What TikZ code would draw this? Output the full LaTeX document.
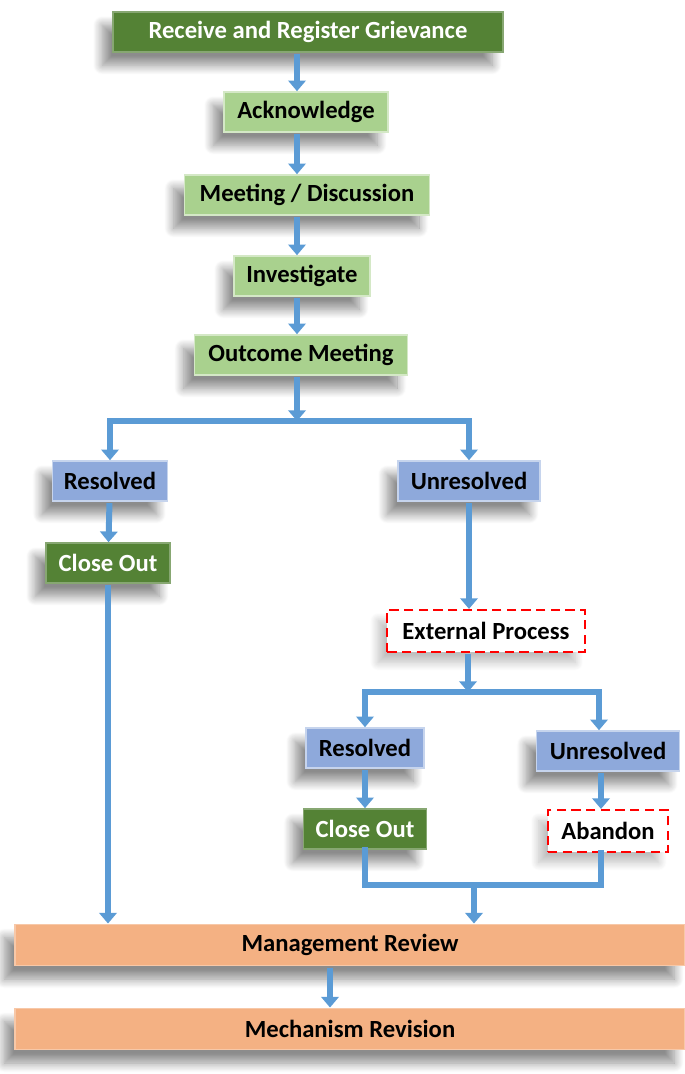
\documentclass[tikz,border=0pt]{standalone}
\usepackage{fontspec}
\setmainfont{Carlito}
\usetikzlibrary{positioning, arrows.meta, shadows.blur}

\definecolor{darkgreen}{RGB}{84,130,53}
\definecolor{lightgreen}{RGB}{169,209,142}
\definecolor{stepblue}{RGB}{142,169,219}
\definecolor{salmon}{RGB}{244,177,131}
\definecolor{flowblue}{RGB}{91,155,213}

\begin{document}
\begin{tikzpicture}[
    % GLOBAL CFG
    x=0.75pt, y=-0.75pt,
    font=\fontsize{18.5}{21}\selectfont\bfseries,
    % Styles
    box/.style={% Common look of all boxes
        rectangle,
        minimum height=30pt,
        inner sep=2pt,
        line width=1.2pt,
        blur shadow={shadow xshift=-8pt, shadow yshift=-10pt,
            shadow opacity=45, shadow blur steps=12, shadow blur radius=7pt},
    },
    dgbox/.style={% Dark green boxes, white text
        box,
        fill=darkgreen,
        draw=darkgreen!70!white,
        text=white,
    },
    lgbox/.style={% Light green steps
        box,
        fill=lightgreen,
        draw=lightgreen!50!white,
    },
    bluebox/.style={% Outcomes
        box,
        fill=stepblue,
        draw=stepblue!50!white,
    },
    salbox/.style={% Wide review boxes
        box,
        fill=salmon,
        draw=salmon!70!white,
        minimum width=502.5pt,
        minimum height=31pt,
    },
    extbox/.style={% Red dashed boxes
        rectangle,
        minimum height=31.5pt,
        fill=white,
        draw=red,
        line width=1.6pt,
        dash pattern=on 7pt off 4pt,
        blur shadow={shadow xshift=-7pt, shadow yshift=-8pt,
            shadow opacity=25, shadow blur steps=12, shadow blur radius=6pt},
    },
    flow/.style={% Thick blue arrows
        draw=flowblue,
        line width=4.5pt,
        -{Triangle[width=13pt,length=8pt]},
        shorten <=1pt,
    },
    pipe/.style={% Thick blue bars
        draw=flowblue,
        line width=4.5pt,
        line cap=rect,
    },
    ]

    \useasboundingbox (0,0) rectangle (685,1074);

    % Draw main column
    \node [dgbox, minimum width=292.5pt] (rcv) at (308,32) {Receive and Register Grievance};
    \node [lgbox, minimum width=123pt] (ack) at (306,112) {Acknowledge};
    \node [lgbox, minimum width=184pt] (meet) at (307,195) {Meeting / Discussion};
    \node [lgbox, minimum width=102pt] (inv) at (302,276) {Investigate};
    \node [lgbox, minimum width=160pt] (outc) at (301,355) {Outcome Meeting};

    % Draw first split
    \node [bluebox, minimum width=86pt] (res1) at (110,481) {Resolved};
    \node [bluebox, minimum width=106.5pt] (unres1) at (469,481) {Unresolved};
    \node [dgbox, minimum width=93pt] (close1) at (108,563) {Close Out};
    \node [extbox, minimum width=148pt] (ext) at (486,631) {External Process};

    % Draw second split
    \node [bluebox, minimum width=88.5pt] (res2) at (365,748) {Resolved};
    \node [bluebox, minimum width=107pt] (unres2) at (608,751) {Unresolved};
    \node [dgbox, minimum width=92pt] (close2) at (365,829) {Close Out};
    \node [extbox, minimum width=90pt] (aband) at (608,831) {Abandon};

    % Draw review
    \node [salbox] (mgmt) at (350,945) {Management Review};
    \node [salbox] (mech) at (350,1029) {Mechanism Revision};

    % Helper coordinates for the bars
    \coordinate (spine) at (297,0);
    \coordinate (split1) at (297,421);
    \coordinate (split2) at (468,692);
    \coordinate (sp2r) at (599,692);
    \coordinate (join) at (474,885);
    \coordinate (abx) at (601,0);
    \coordinate (revx) at (330,0);

    % Connect all
    % Main column
    \draw [flow] (rcv.south -| spine) -- (ack.north -| spine);
    \draw [flow] (ack.south -| spine) -- (meet.north -| spine);
    \draw [flow] (meet.south -| spine) -- (inv.north -| spine);
    \draw [flow] (inv.south -| spine) -- (outc.north -| spine);
    \draw [flow] (outc.south -| spine) -- (split1);

    % First split
    \draw [pipe] (res1.north |- split1) -- (unres1.north |- split1);
    \draw [flow] (res1.north |- split1) -- (res1.north);
    \draw [flow] (unres1.north |- split1) -- (unres1.north);
    \draw [flow] (res1) -- (close1);
    \draw [flow] (close1.south) -- (close1.south |- mgmt.north);
    \draw [flow] (unres1.south) -- (unres1.south |- ext.north);

    % Second split
    \draw [flow] (ext.south -| split2) -- (split2);
    \draw [pipe] (res2.north |- split2) -- (sp2r);
    \draw [flow] (res2.north |- split2) -- (res2.north);
    \draw [flow] (sp2r) -- (sp2r |- unres2.north);
    \draw [flow] (res2) -- (close2);
    \draw [flow] (unres2.south -| abx) -- (aband.north -| abx);

    % Join and review
    \draw [pipe] (close2.south) |- (join) -| (aband.south -| abx);
    \draw [flow] (join) -- (join |- mgmt.north);
    \draw [flow] (mgmt.south -| revx) -- (mech.north -| revx);

\end{tikzpicture}
\end{document}
